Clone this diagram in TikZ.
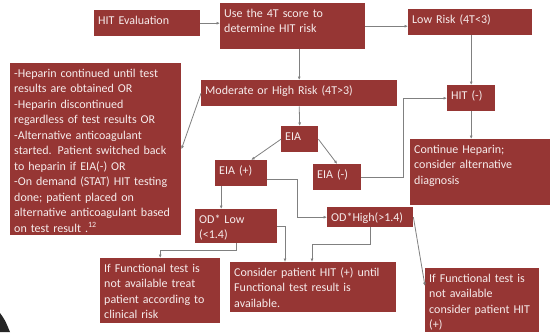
\documentclass[tikz,border=0pt]{standalone}
\usepackage{fontspec}
\setmainfont{Carlito}
\usepackage{tikz}
\usetikzlibrary{arrows.meta,positioning,calc}
\definecolor{boxred}{RGB}{150,54,52}
\definecolor{boxtext}{RGB}{246,236,236}
\definecolor{linegray}{RGB}{128,128,128}

\begin{document}
\begin{tikzpicture}[x=1pt,y=-1pt,
          box/.style={fill=boxred,text=boxtext,anchor=north west,
                      align=left,inner xsep=4pt,inner ysep=3pt,
                      text height=11pt,
                      font=\fontsize{12}{15.5}\selectfont},
          link/.style={draw=linegray,line width=0.8pt,
                       -{Latex[length=3.5pt,width=3pt]}}]
        \useasboundingbox (0,0) rectangle (551,332);
        % top row
        \node[box,text width=98pt,text depth=9pt] (eval) at (94,10)
          {HIT Evaluation};
        \node[box,text width=137pt,text depth=29pt] (fourt) at (220,3)
          {Use the 4T score to\\determine HIT risk};
        \node[box,text width=116pt,text depth=9pt] (low) at (408,9)
          {Low Risk (4T<3)};
        % risk branches
        \node[box,text width=188pt,text depth=9pt] (mod) at (201,80)
          {Moderate or High Risk (4T>3)};
        \node[box,text width=40pt,text depth=9pt] (hitn) at (447,85)
          {HIT (-)};
        \node[box,text width=132pt,text depth=49pt] (cont) at (410,139)
          {Continue Heparin;\\consider alternative\\diagnosis};
        \node[box,text width=163pt,text depth=155pt] (manage) at (10,63)
          { -Heparin continued until test\\
          results are obtained OR\\
          -Heparin discontinued\\
          regardless of test results OR\\
          -Alternative anticoagulant\\
          started. Patient switched back\\
          to heparin if EIA(-) OR\\
          -On demand (STAT) HIT testing\\
          done; patient placed on\\
          alternative anticoagulant based\\
          on test result .\textsuperscript{12}};
        % EIA
        \node[box,text width=29pt,text depth=9pt] (eia) at (281,126) {EIA};
        \node[box,text width=44pt,text depth=9pt] (eiap) at (215,160) {EIA (+)};
        \node[box,text width=40pt,text depth=9pt] (eiam) at (313,164) {EIA (-)};
        \node[box,text width=74pt,text depth=17pt] (odlow) at (195,209)
          {OD* Low\\(<1.4)};
        \node[box,text width=78pt,text depth=3pt] (odhigh) at (327,207)
          {OD*High(>1.4)};
        % outcomes
        \node[box,text width=112pt,text depth=48pt] (iflow) at (100,258)
          {If Functional test is\\not available treat\\patient according to\\clinical risk};
        \node[box,text width=158pt,text depth=33pt] (consider) at (230,262)
          {Consider patient HIT (+) until\\Functional test result is\\available.};
        \node[box,text width=106pt,text depth=47pt] (ifhigh) at (425,268)
          {If Functional test is\\not available\\consider patient HIT\\(+)};

        \draw[link] (eval.east) -- (eval.east -| fourt.west);
        \draw[link] (fourt.east) -- (fourt.east -| low.west);
        \draw[link] (mod.north |- fourt.south) -- (mod.north);
        \draw[link] (hitn.north |- low.south) -- (hitn.north);
        \draw[link] (hitn.south) -- (hitn.south |- cont.north);
        \draw[link] (mod.west) -- (manage.east);
        \draw[link] (mod.south) -- (eia.north);
        \draw[link] (eia.west) -- ([xshift=10pt]eiap.north);
        \draw[link] (eia.east) -- (eiam.north);
        \draw[link] (eiam.east) -- ++(42,0) |- (hitn.west);
        \draw[link] ([xshift=-20pt]eiap.south) -- ([xshift=-20pt]eiap.south |- odlow.north);
        \draw[link] ([yshift=-6pt]eiap.east) -- ++(30,0) |- (odhigh.west);
        \draw[link] (odlow.south) -- ++(0,7) -| (iflow.north);
        \draw[link] (odlow.east) -| ([xshift=55pt]consider.north west);
        \draw[link] (odhigh.south) -- ++(0,17) -| ([xshift=82pt]consider.north west);
        \draw[link] (odhigh.east) -- ([yshift=-18pt]ifhigh.north west);

        % dark corner
        \fill[black!85] (0,313) .. controls (5,320) .. (10,332) -- (0,332) -- cycle;
      \end{tikzpicture}
\end{document}
